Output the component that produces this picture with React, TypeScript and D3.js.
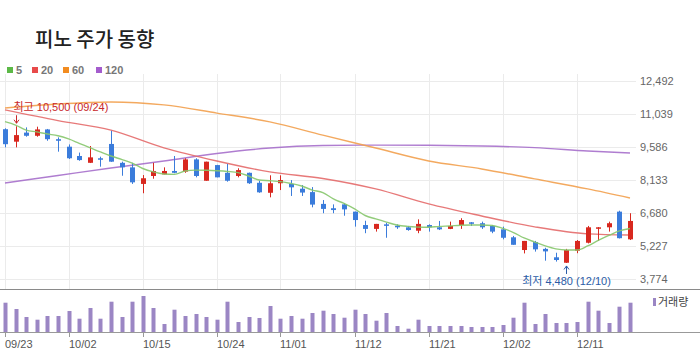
import * as d3 from "d3";
import React, { Component } from "react";

// trading days shown on the chart
const dates = [
  "09/23", "09/24", "09/25", "09/26", "09/27", "09/30", "10/02", "10/04", "10/07", "10/08",
  "10/10", "10/11", "10/14", "10/15", "10/16", "10/17", "10/18", "10/21", "10/22", "10/23",
  "10/24", "10/25", "10/28", "10/29", "10/30", "10/31", "11/01", "11/04", "11/05", "11/06",
  "11/07", "11/08", "11/11", "11/12", "11/13", "11/14", "11/15", "11/18", "11/19", "11/20",
  "11/21", "11/22", "11/25", "11/26", "11/27", "11/28", "11/29", "12/02", "12/03", "12/04",
  "12/05", "12/06", "12/09", "12/10", "12/11", "12/12", "12/13", "12/16", "12/17", "12/18",
];

const opens = [
  10370, 9820, 10220, 10080, 10360, 9930, 9600, 9190, 8890, 9090,
  9720, 8890, 8690, 7960, 8310, 8380, 8530, 8500, 9040, 8100,
  8790, 8450, 8310, 8450, 8010, 7570, 7990, 7960, 7750, 7600,
  7080, 6890, 7060, 6740, 6150, 5980, 6180, 6120, 6050, 5900,
  6150, 6050, 5980, 6150, 6270, 6230, 6110, 5960, 5610, 5050,
  5400, 5100, 4730, 4490, 5020, 5370, 6000, 6050, 6740, 5520,
];
const highs = [
  10410, 10500, 10450, 10480, 10380, 10010, 9700, 9340, 9630, 9160,
  10300, 8940, 8890, 8350, 8890, 8690, 9190, 9090, 9090, 8940,
  8800, 8840, 8650, 8460, 8100, 8340, 8340, 8130, 7910, 7820,
  7250, 7060, 7110, 6740, 6340, 6200, 6250, 6180, 6110, 6400,
  6180, 6330, 6300, 6450, 6280, 6300, 6150, 6080, 5670, 5450,
  5450, 5150, 4930, 5100, 5490, 6110, 6060, 6300, 6780, 6670,
];
const lows = [
  9570, 9570, 10040, 10040, 9860, 9380, 9060, 8980, 8880, 8720,
  8930, 8320, 7960, 7550, 8190, 8380, 8430, 8450, 8250, 8100,
  8250, 8060, 8250, 7960, 7570, 7370, 7690, 7430, 7430, 6930,
  6670, 6670, 6560, 6080, 5790, 5860, 5590, 5980, 5900, 5790,
  5860, 5930, 5970, 5980, 6110, 5980, 5790, 5520, 5280, 4900,
  4980, 4580, 4540, 4480, 4910, 5340, 5450, 5860, 5560, 5490,
];
const closes = [
  9710, 10110, 10080, 10360, 9930, 9860, 9090, 9010, 9130, 9040,
  8940, 8690, 8030, 8210, 8530, 8530, 8450, 9040, 8310, 8940,
  8250, 8100, 8570, 7990, 7590, 7990, 8130, 7810, 7580, 7050,
  6860, 6810, 6840, 6370, 5980, 6200, 6120, 6050, 5930, 6200,
  6050, 5960, 6110, 6370, 6230, 6050, 5860, 5590, 5280, 5450,
  5080, 4990, 4610, 5050, 5450, 6050, 6050, 6230, 5570, 6330,
];
const volumes = [
  293000, 230000, 150000, 123000, 160000, 160000, 210000, 133000, 240000, 133000,
  303000, 150000, 303000, 360000, 240000, 80000, 223000, 160000, 180000, 150000,
  123000, 303000, 100000, 150000, 140000, 260000, 133000, 160000, 133000, 190000,
  213000, 180000, 143000, 223000, 180000, 113000, 190000, 60000, 33000, 123000,
  60000, 60000, 60000, 60000, 50000, 50000, 50000, 70000, 143000, 293000,
  80000, 180000, 90000, 90000, 100000, 303000, 213000, 90000, 253000, 293000,
];

// moving averages
const ma5 = [
  10700, 10550, 10330, 10250, 10160, 10080, 9940, 9750, 9560, 9370,
  9190, 9040, 8880, 8640, 8490, 8400, 8380, 8530, 8570, 8560,
  8540, 8510, 8460, 8310, 8130, 8100, 8060, 7980, 7870, 7690,
  7580, 7300, 7100, 6860, 6570, 6420, 6280, 6150, 6090, 6060,
  6050, 6090, 6110, 6140, 6150, 6150, 6130, 6000, 5820, 5580,
  5400, 5230, 5100, 5050, 5050, 5230, 5470, 5690, 5890, 6000,
];
const maDays = ["09/23", "09/30", "10/10", "10/17", "10/24", "10/31", "11/07", "11/14", "11/21", "11/28", "12/05", "12/12", "12/18"];
const ma20 = [11220, 10750, 10330, 9550, 8970, 8490, 8200, 7740, 7080, 6550, 6070, 5760, 5710];
const ma60 = [11300, 11480, 11570, 11440, 11080, 10690, 10110, 9540, 8970, 8620, 8180, 7740, 7340];
const ma120 = [8000, 8330, 8660, 8970, 9300, 9540, 9650, 9670, 9660, 9630, 9560, 9410, 9320];

const yTicks = [12492, 11039, 9586, 8133, 6680, 5227, 3774];
const xTicks = ["09/23", "10/02", "10/15", "10/24", "11/01", "11/12", "11/21", "12/02", "12/11"];
const legend = [
  { label: "5", color: "#5cb947" },
  { label: "20", color: "#e84a4a" },
  { label: "60", color: "#f28c20" },
  { label: "120", color: "#a45ccd" },
];

const UP = "#d8281f";
const DOWN = "#3b7cdb";
const FONT = "'Liberation Sans', 'Noto Sans CJK KR', sans-serif";

export default class App extends Component {
  chartRef: any;
  componentDidMount(): void {
    const width = 700;
    const height = 353;
    const chart = d3.select(this.chartRef);
    chart.selectAll("*").remove();
    chart.attr("width", width).attr("height", height).attr("font-family", FONT);

    const xScale = d3.scalePoint().domain(dates).range([5, 630]);
    const yScale = d3.scaleLinear().domain([3774, 12492]).range([279, 81]);
    const vScale = d3.scaleLinear().domain([0, 360000]).range([332, 296]);
    const gridTop = 74;
    const priceBottom = 289;

    // title
    chart
      .append("text")
      .text("피노 주가 동향")
      .attr("x", 35)
      .attr("y", 47)
      .attr("font-family", "'Noto Sans CJK KR', sans-serif")
      .attr("font-size", 20)
      .attr("font-weight", 500)
      .attr("fill", "#222");

    // legend
    const lg = chart.append("g");
    const lgX = [7, 32, 63, 96];
    legend.forEach((d, i) => {
      lg.append("rect").attr("x", lgX[i]).attr("y", 67).attr("width", 6).attr("height", 6).attr("fill", d.color);
      lg.append("text")
        .text(d.label)
        .attr("x", lgX[i] + 9)
        .attr("y", 74)
        .attr("font-size", 11)
        .attr("font-weight", 700)
        .attr("fill", "#777");
    });

    // grid
    const grid = chart.append("g").attr("stroke", "#ebebeb").attr("stroke-width", 1);
    yTicks.forEach((t) => {
      const y = Math.round(yScale(t)) + 0.5;
      grid.append("line").attr("x1", 0).attr("x2", 636).attr("y1", y).attr("y2", y);
    });
    xTicks.forEach((t) => {
      const x = Math.round(xScale(t) as number) + 0.5;
      grid.append("line").attr("x1", x).attr("x2", x).attr("y1", gridTop).attr("y2", priceBottom);
    });

    // right axis labels
    chart
      .append("g")
      .selectAll("text")
      .data(yTicks)
      .enter()
      .append("text")
      .text((d) => d3.format(",")(d))
      .attr("x", 640)
      .attr("y", (d) => yScale(d))
      .attr("dy", "0.35em")
      .attr("font-size", 11)
      .attr("fill", "#666");

    // moving averages
    const maLine = (values: number[], days: string[], color: string, curve: any) => {
      const line = d3
        .line<number>()
        .x((d, i) => xScale(days[i]) as number)
        .y((d) => yScale(d))
        .curve(curve);
      chart
        .append("path")
        .attr("d", line(values))
        .attr("fill", "none")
        .attr("stroke", color)
        .attr("stroke-width", 1.4)
        .attr("stroke-opacity", 0.9);
    };
    maLine(ma120, maDays, "#a66fcb", d3.curveMonotoneX);
    maLine(ma60, maDays, "#f2a04e", d3.curveMonotoneX);
    maLine(ma20, maDays, "#e46a6a", d3.curveMonotoneX);

    // candles
    const candles = chart
      .append("g")
      .selectAll("g")
      .data(dates)
      .enter()
      .append("g");
    candles
      .append("line")
      .attr("x1", (d) => Math.round(xScale(d) as number) + 0.5)
      .attr("x2", (d) => Math.round(xScale(d) as number) + 0.5)
      .attr("y1", (d, i) => yScale(highs[i]))
      .attr("y2", (d, i) => yScale(lows[i]))
      .attr("stroke", (d, i) => (closes[i] >= opens[i] ? UP : DOWN))
      .attr("stroke-width", 1);
    candles
      .append("rect")
      .attr("x", (d) => Math.round(xScale(d) as number) - 2)
      .attr("width", 5)
      .attr("y", (d, i) => yScale(Math.max(opens[i], closes[i])))
      .attr("height", (d, i) => Math.max(1.5, Math.abs(yScale(opens[i]) - yScale(closes[i]))))
      .attr("fill", (d, i) => (closes[i] >= opens[i] ? UP : DOWN));

    maLine(ma5, dates, "#86c76b", d3.curveMonotoneX);

    // high / low annotations
    const hiIdx = highs.indexOf(d3.max(highs) as number);
    const loIdx = lows.indexOf(d3.min(lows) as number);
    const hx = Math.round(xScale(dates[hiIdx]) as number) + 0.5;
    const hy = yScale(highs[hiIdx]);
    chart
      .append("text")
      .text(`최고 ${d3.format(",")(highs[hiIdx])} (${dates[hiIdx]})`)
      .attr("x", hx - 3)
      .attr("y", hy - 15)
      .attr("font-size", 11)
      .attr("fill", "#c8282a");
    chart
      .append("path")
      .attr("d", `M${hx},${hy - 11}V${hy - 3}M${hx - 2.5},${hy - 6.5}L${hx},${hy - 3}L${hx + 2.5},${hy - 6.5}`)
      .attr("stroke", "#c8282a")
      .attr("fill", "none");
    const lx = Math.round(xScale(dates[loIdx]) as number) + 0.5;
    const ly = yScale(lows[loIdx]);
    chart
      .append("path")
      .attr("d", `M${lx},${ly + 11}V${ly + 3}M${lx - 2.5},${ly + 6.5}L${lx},${ly + 3}L${lx + 2.5},${ly + 6.5}`)
      .attr("stroke", "#2b5ca6")
      .attr("fill", "none");
    chart
      .append("text")
      .text(`최저 ${d3.format(",")(lows[loIdx])} (${dates[loIdx]})`)
      .attr("x", lx)
      .attr("y", ly + 22)
      .attr("text-anchor", "middle")
      .attr("font-size", 11)
      .attr("fill", "#2b5ca6");

    // divider between price and volume
    chart.append("line").attr("x1", 0).attr("x2", width).attr("y1", 289.5).attr("y2", 289.5).attr("stroke", "#8a8a8a");

    // volume
    chart
      .append("g")
      .selectAll("rect")
      .data(volumes)
      .enter()
      .append("rect")
      .attr("x", (d, i) => Math.round(xScale(dates[i]) as number) - 1.5)
      .attr("width", 4)
      .attr("y", (d) => vScale(d))
      .attr("height", (d) => vScale(0) - vScale(d))
      .attr("fill", "#9b86c4");
    chart.append("line").attr("x1", 0).attr("x2", width).attr("y1", 332.5).attr("y2", 332.5).attr("stroke", "#999");

    chart.append("rect").attr("x", 653).attr("y", 298).attr("width", 3).attr("height", 8).attr("fill", "#9b86c4");
    chart
      .append("text")
      .text("거래량")
      .attr("x", 658)
      .attr("y", 302)
      .attr("dy", "0.35em")
      .attr("font-size", 11)
      .attr("fill", "#444");

    // x axis
    const xa = chart.append("g");
    xTicks.forEach((t) => {
      const x = Math.round(xScale(t) as number) + 0.5;
      xa.append("line").attr("x1", x).attr("x2", x).attr("y1", 332).attr("y2", 337).attr("stroke", "#999");
      xa.append("text")
        .text(t)
        .attr("x", x - 0.5)
        .attr("y", 344)
        .attr("dy", "0.35em")
        .attr("font-size", 11)
        .attr("fill", "#555");
    });
  }
  render() {
    return (
      <div>
        <svg ref={(r) => (this.chartRef = r)} style={{ position: "absolute", left: 0, top: 0 }}></svg>
      </div>
    );
  }
}
